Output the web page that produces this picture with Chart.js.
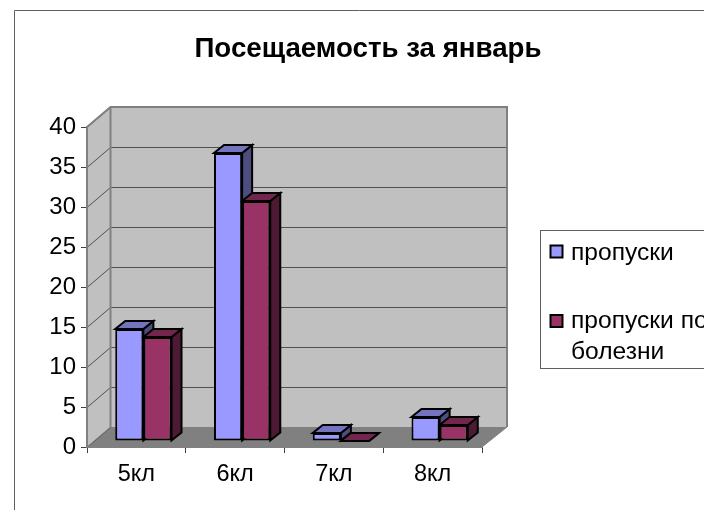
<!DOCTYPE html>
<html>
<head>
<meta charset="utf-8">
<style>
  html, body { margin: 0; padding: 0; background: #fff; overflow: hidden; }
  #wrap { position: relative; width: 704px; height: 510px; }
</style>
<script src="https://cdn.jsdelivr.net/npm/chart.js@4"></script>
</head>
<body>
<div id="wrap"><canvas id="chart"></canvas></div>
<script>
const chartTitle = 'Посещаемость за январь';
const categories = ['5кл', '6кл', '7кл', '8кл'];
const absences = [14, 36, 1, 3];
const sickAbsences = [13, 30, 0, 2];
const seriesNames = ['пропуски', 'пропуски по болезни'];
const legendLines = [['пропуски'], ['пропуски по', 'болезни']];

const FONT = "'Liberation Sans', Arial, sans-serif";
const COLORS = {
    blue: '#9999FF', blueTop: '#7373BF', blueSide: '#4D4D80',
    red: '#993366', redTop: '#73264D', redSide: '#4D1A33',
    wall: '#C0C0C0', floor: '#808080', edge: '#808080', grid: '#505050', frame: '#606060',
};
// 3D look: wall depth and the shift/depth of the bars
const WALL = { dxLeft: 23.5, dxRight: 25, dy: -20 };
const BAR = { dx: 7, dy: -6, depthX: 10, depthY: -8 };

function poly(ctx, pts, fill, stroke, width) {
    ctx.beginPath();
    pts.forEach((p, i) => (i ? ctx.lineTo(p[0], p[1]) : ctx.moveTo(p[0], p[1])));
    ctx.closePath();
    if (fill) { ctx.fillStyle = fill; ctx.fill(); }
    if (stroke) { ctx.strokeStyle = stroke; ctx.lineWidth = width; ctx.stroke(); }
}

const walls3d = {
    id: 'walls3d',
    beforeDraw(chart) {
        const { ctx, chartArea: a, scales: { y } } = chart;
        ctx.save();
        // outer frame runs off the page on the right and at the bottom
        ctx.strokeStyle = COLORS.frame;
        ctx.lineWidth = 1;
        ctx.beginPath();
        ctx.moveTo(14.5, 510);
        ctx.lineTo(14.5, 10.5);
        ctx.lineTo(704, 10.5);
        ctx.stroke();

        ctx.fillStyle = '#000';
        ctx.font = 'bold 27.7px ' + FONT;
        ctx.textAlign = 'center';
        ctx.textBaseline = 'middle';
        ctx.fillText(chartTitle, 368, 49);

        const b = { l: a.left + WALL.dxLeft, r: a.right + WALL.dxRight, t: a.top + WALL.dy, bt: a.bottom + WALL.dy };
        poly(ctx, [[a.left, a.top], [b.l, b.t], [b.l, b.bt], [a.left, a.bottom]], COLORS.wall);
        poly(ctx, [[b.l, b.t], [b.r, b.t], [b.r, b.bt], [b.l, b.bt]], COLORS.wall);
        poly(ctx, [[a.left, a.bottom], [a.right, a.bottom], [b.r, b.bt], [b.l, b.bt]], COLORS.floor);

        y.ticks.forEach((t) => {
            const py = Math.round(y.getPixelForValue(t.value)) + 0.5;
            ctx.strokeStyle = COLORS.grid;
            ctx.lineWidth = 1;
            ctx.beginPath();
            ctx.moveTo(a.left, py);
            ctx.lineTo(b.l, py + WALL.dy);
            if (t.value > 0 && t.value < 40) ctx.lineTo(b.r, py + WALL.dy);
            ctx.stroke();
        });

        ctx.strokeStyle = COLORS.edge;
        ctx.lineWidth = 2;
        ctx.beginPath();
        ctx.moveTo(a.left, a.top);
        ctx.lineTo(b.l, b.t);
        ctx.lineTo(b.r, b.t);
        ctx.lineTo(b.r, b.bt);
        ctx.moveTo(b.l, b.t);
        ctx.lineTo(b.l, b.bt);
        ctx.stroke();
        ctx.lineWidth = 1;
        ctx.beginPath();
        ctx.moveTo(b.r, b.bt);
        ctx.lineTo(a.right, a.bottom);
        ctx.moveTo(b.l, b.bt);
        ctx.lineTo(a.left, a.bottom);
        ctx.stroke();
        ctx.restore();
    },
    beforeDatasetsDraw(chart) {
        const { ctx } = chart;
        ctx.save();
        ctx.translate(BAR.dx, BAR.dy);
        ctx.lineJoin = 'miter';
        const shades = [[COLORS.blueTop, COLORS.blueSide], [COLORS.redTop, COLORS.redSide]];
        categories.forEach((_, i) => {
            [0, 1].forEach((d) => {
                const bar = chart.getDatasetMeta(d).data[i];
                const l = bar.x - bar.width / 2, r = bar.x + bar.width / 2;
                const top = bar.y, base = bar.base;
                const dx = BAR.depthX, dy = BAR.depthY;
                poly(ctx, [[r, top], [r + dx, top + dy], [r + dx, base + dy], [r, base]], shades[d][1], '#000', 2);
                poly(ctx, [[l, top], [l + dx, top + dy], [r + dx, top + dy], [r, top]], shades[d][0], '#000', 2);
            });
        });
    },
    afterDatasetsDraw(chart) {
        chart.ctx.restore();
    },
    afterDraw(chart) {
        const { ctx } = chart;
        ctx.save();
        ctx.strokeStyle = COLORS.frame;
        ctx.lineWidth = 1;
        ctx.fillStyle = '#fff';
        ctx.fillRect(540.5, 230.5, 170, 138);
        ctx.strokeRect(540.5, 230.5, 170, 138);
        const swatches = [[COLORS.blue, 245.5], [COLORS.red, 315]];
        const rows = [[253], [321, 352]];
        ctx.font = '24.6px ' + FONT;
        ctx.textAlign = 'left';
        ctx.textBaseline = 'middle';
        swatches.forEach((s, i) => {
            ctx.fillStyle = s[0];
            ctx.fillRect(550.5, s[1], 12, 12);
            ctx.strokeStyle = '#000';
            ctx.lineWidth = 2;
            ctx.strokeRect(550.5, s[1], 12, 12);
            ctx.fillStyle = '#000';
            legendLines[i].forEach((line, j) => ctx.fillText(line, 571, rows[i][j]));
        });
        ctx.restore();
    },
};

new Chart(document.getElementById('chart'), {
    type: 'bar',
    data: {
        labels: categories,
        datasets: [
            { label: seriesNames[0], data: absences, backgroundColor: COLORS.blue },
            { label: seriesNames[1], data: sickAbsences, backgroundColor: COLORS.red },
        ].map((ds) => ({
            ...ds,
            borderColor: '#000',
            borderWidth: 2,
            borderSkipped: false,
            categoryPercentage: 0.57,
            barPercentage: 1,
            clip: false,
        })),
    },
    options: {
        responsive: true,
        maintainAspectRatio: false,
        animation: false,
        layout: { padding: { left: 0, top: 127, right: 222, bottom: 0 } },
        plugins: { legend: { display: false }, title: { display: false }, tooltip: { enabled: false } },
        scales: {
            x: {
                afterFit: (s) => { s.height = 63; },
                grid: { drawOnChartArea: false, color: '#404040', tickLength: 6 },
                border: { color: COLORS.edge, width: 2 },
                ticks: { color: '#000', padding: 7, maxRotation: 0, font: { family: FONT, size: 23.5 } },
            },
            y: {
                min: 0,
                max: 40,
                afterFit: (s) => { s.width = 87; },
                grid: { drawOnChartArea: false, color: '#404040', tickLength: 6 },
                border: { color: COLORS.edge, width: 2 },
                ticks: { stepSize: 5, color: '#000', padding: 5, font: { family: FONT, size: 24 } },
            },
        },
    },
    plugins: [walls3d],
});
</script>
</body>
</html>
